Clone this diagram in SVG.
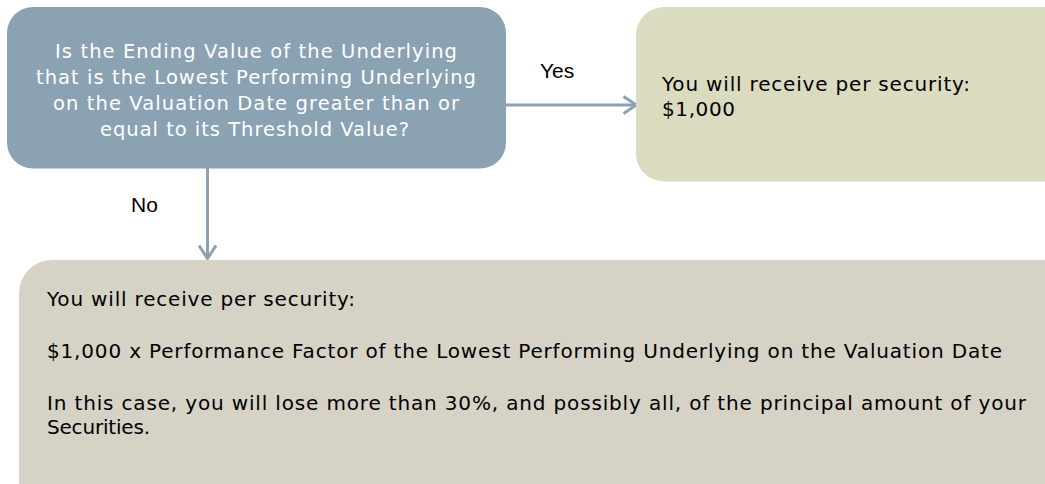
<svg xmlns="http://www.w3.org/2000/svg" width="1045" height="484" viewBox="0 0 1045 484">
<defs>
<style>
text{font-family:"DejaVu Sans","Verdana",sans-serif;font-size:20px}
.w{fill:#ffffff;font-size:19.5px}
.k{fill:#000000}
.lbl{font-family:"Liberation Sans","Arial",sans-serif;font-size:21px;fill:#000000}
.conn{stroke:#8AA2B2;stroke-width:3;fill:none}
</style>
<marker id="arr" viewBox="0 0 16 20" refX="15" refY="10" markerWidth="16" markerHeight="20" markerUnits="userSpaceOnUse" orient="auto">
<path d="M1.5,1.5 L14.5,10 L1.5,18.5" fill="none" stroke="#8AA2B2" stroke-width="3"/>
</marker>
</defs>
<g id="connectors">
<line class="conn" x1="506" y1="105" x2="637" y2="105" marker-end="url(#arr)"/>
<line class="conn" x1="207.5" y1="168" x2="207.5" y2="259" marker-end="url(#arr)"/>
<text class="lbl" x="540" y="78">Yes</text>
<text class="lbl" x="131" y="211.5">No</text>
</g>
<g id="question">
<rect x="7" y="7" width="499" height="161.5" rx="26" fill="#8AA2B2"/>
<text class="w" x="55" y="57.5" textLength="402" lengthAdjust="spacing">Is the Ending Value of the Underlying</text>
<text class="w" x="36" y="84" textLength="440" lengthAdjust="spacing">that is the Lowest Performing Underlying</text>
<text class="w" x="53" y="110" textLength="406" lengthAdjust="spacing">on the Valuation Date greater than or</text>
<text class="w" x="100" y="136" textLength="309" lengthAdjust="spacing">equal to its Threshold Value?</text>
</g>
<g id="yes-outcome">
<rect x="636" y="7" width="440" height="174.5" rx="28" fill="#DBDBC0"/>
<text class="k" x="662" y="90.5" textLength="308" lengthAdjust="spacing">You will receive per security:</text>
<text class="k" x="662" y="115.5" textLength="73" lengthAdjust="spacing">$1,000</text>
</g>
<g id="no-outcome">
<rect x="19" y="260" width="1060" height="260" rx="33" fill="#D6D2C6"/>
<text class="k" x="47" y="306" textLength="308" lengthAdjust="spacing">You will receive per security:</text>
<text class="k" x="47" y="358" textLength="955" lengthAdjust="spacing">$1,000 x Performance Factor of the Lowest Performing Underlying on the Valuation Date</text>
<text class="k" x="47" y="410" textLength="979" lengthAdjust="spacing">In this case, you will lose more than 30%, and possibly all, of the principal amount of your</text>
<text class="k" x="47" y="434" textLength="103" lengthAdjust="spacing">Securities.</text>
</g>
</svg>
